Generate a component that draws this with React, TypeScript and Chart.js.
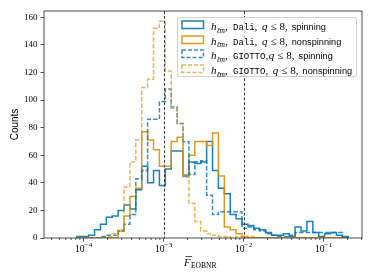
import React, { useEffect, useRef } from "react";
import { Chart, registerables } from "chart.js";
Chart.register(...registerables);

// ---------- data ----------
// log-spaced histogram bins (log10 of first edge, decade width of a bin)
const binLogStart = -4.08375;
const binLogWidth = 0.07375;

// counts per bin
const daliSpinning = [1,1,2,6,10,15,16,20,24,21,35,52,40,49,38,50,63,63,45,55,54,55,70,49,36,32,17,14,10,9,7,6,4,2,2,3,1,8,5,12,4,1,3,4,2,1];
const daliNonspinning = [0,0,0,0,0,0,0,5,16,30,36,77,71,64,52,52,70,73,46,60,70,70,67,76,45,8,6,3,1,0,0,0,0,0,0,0,0,0,0,0,0,0,0,0,0,0];
const giottoSpinning = [0,0,0,0,1,2,2,5,10,17,43,49,86,86,99,108,95,83,70,46,55,56,31,17,19,19,19,19,7,8,6,5,3,2,1,1,2,4,4,4,4,4,4,4,4,0];
const giottoNonspinning = [0,0,0,0,0,1,3,6,37,55,71,109,115,152,157,121,94,83,44,25,12,5,3,2,1,1,0,1,0,1,0,0,0,0,0,0,0,0,0,0,0,0,0,0,0,0];

const yTickValues = [0, 20, 40, 60, 80, 100, 120, 140, 160];
const xTickExponents = [-4, -3, -2, -1];
const referenceLines = [1e-3, 1e-2];
const xLogMin = -4.494;
const xLogMax = -0.519;
const yMax = 164.5;

// ---------- style ----------
const W = 374;
const H = 280;
const AREA = { left: 44, right: 362, top: 11, bottom: 238 };
const BLUE = "rgba(1,115,178,0.9)";
const ORANGE = "rgba(222,143,5,0.9)";
const BLUE_D = "rgba(1,115,178,0.8)";
const ORANGE_D = "rgba(230,150,20,0.72)";
const SERIF = "'Liberation Serif', 'DejaVu Serif', serif";
const SANS = "'Liberation Sans', 'DejaVu Sans', sans-serif";
const MONO = "'Liberation Mono', 'DejaVu Sans Mono', monospace";
const DASH = [4.5, 2];

function stepPoints(counts: number[]) {
  const edge = (i: number) => Math.pow(10, binLogStart + binLogWidth * i);
  const pts: { x: number; y: number }[] = [{ x: edge(0), y: 0 }];
  counts.forEach((c, i) => pts.push({ x: edge(i), y: c }));
  pts.push({ x: edge(counts.length), y: 0 });
  return pts;
}

const legendItems = [
  { color: BLUE, dashed: false, code: "Dali", gap: 4.6, kind: "spinning" },
  { color: ORANGE, dashed: false, code: "Dali", gap: 4.6, kind: "nonspinning" },
  { color: BLUE_D, dashed: true, code: "GIOTTO", gap: 0.6, kind: "spinning" },
  { color: ORANGE_D, dashed: true, code: "GIOTTO", gap: 4.6, kind: "nonspinning" },
];

const decorPlugin = {
  id: "decor",
  afterDatasetsDraw(chart: any) {
    const { ctx, chartArea: a, scales } = chart;
    const x = scales.x;
    ctx.save();
    // reference lines
    ctx.strokeStyle = "#3c3c3c";
    ctx.lineWidth = 1;
    ctx.setLineDash([3, 1.8]);
    referenceLines.forEach((v) => {
      const px = Math.round(x.getPixelForValue(v)) + 0.5;
      ctx.beginPath();
      ctx.moveTo(px, a.top);
      ctx.lineTo(px, a.bottom);
      ctx.stroke();
    });
    ctx.setLineDash([]);
    // frame
    ctx.strokeStyle = "#222";
    ctx.lineWidth = 0.8;
    ctx.strokeRect(a.left, a.top, a.right - a.left, a.bottom - a.top);
    // x ticks
    for (let d = -6; d <= 0; d++) {
      for (let m = 1; m <= 9; m++) {
        const v = m * Math.pow(10, d);
        if (v < x.min || v > x.max) continue;
        const px = x.getPixelForValue(v);
        const len = m === 1 ? 3.5 : 2;
        ctx.beginPath();
        ctx.moveTo(px, a.bottom);
        ctx.lineTo(px, a.bottom + len);
        ctx.stroke();
      }
    }
    // x tick labels
    ctx.fillStyle = "#000";
    ctx.textBaseline = "alphabetic";
    xTickExponents.forEach((e) => {
      const px = x.getPixelForValue(Math.pow(10, e));
      ctx.font = `9.5px ${SERIF}`;
      const base = "10";
      const bw = ctx.measureText(base).width;
      ctx.font = `7px ${SERIF}`;
      const sup = "\u2212" + Math.abs(e);
      const sw = ctx.measureText(sup).width;
      const left = px - (bw + sw) / 2;
      ctx.font = `9.5px ${SERIF}`;
      ctx.fillText(base, left, 251.5);
      ctx.font = `7px ${SERIF}`;
      ctx.fillText(sup, left + bw + 0.3, 247);
    });
    // x title
    const cx = (a.left + a.right) / 2;
    ctx.font = `italic 10.5px ${SERIF}`;
    const fW = ctx.measureText("F").width;
    ctx.font = `7.5px ${SERIF}`;
    const subW = ctx.measureText("EOBNR").width;
    const tl = cx - (fW + subW) / 2 - 3;
    ctx.font = `italic 10.5px ${SERIF}`;
    ctx.fillText("F", tl, 266);
    ctx.lineWidth = 0.8;
    ctx.beginPath();
    ctx.moveTo(tl + 1.5, 256.5);
    ctx.lineTo(tl + fW + 1.5, 256.5);
    ctx.stroke();
    ctx.font = `7.5px ${SERIF}`;
    ctx.fillText("EOBNR", tl + fW + 0.5, 268);
    // y title
    ctx.translate(15, (a.top + a.bottom) / 2);
    ctx.rotate(-Math.PI / 2);
    ctx.font = `10px ${SANS}`;
    ctx.textAlign = "center";
    ctx.textBaseline = "middle";
    ctx.fillText("Counts", 0, 0);
    ctx.restore();
  },
};

function Legend() {
  const rowCenters = [8, 22.7, 37.3, 52];
  const math: React.CSSProperties = { fontFamily: SERIF, fontSize: 11 };
  return (
    <div
      style={{
        position: "absolute",
        left: 177,
        top: 17,
        width: 180,
        height: 60,
        boxSizing: "border-box",
        border: "1px solid rgba(204,204,204,0.9)",
        borderRadius: 3,
        background: "rgba(255,255,255,0.8)",
      }}
    >
      {legendItems.map((it, i) => (
        <React.Fragment key={i}>
          <svg
            width={24}
            height={10}
            style={{ position: "absolute", left: 2.5, top: rowCenters[i] - 5 - 1 }}
          >
            <rect
              x={1}
              y={1}
              width={21.5}
              height={7.5}
              fill="none"
              stroke={it.color}
              strokeWidth={1.5}
              strokeDasharray={it.dashed ? "4 2" : undefined}
            />
          </svg>
          <div
            style={{
              position: "absolute",
              left: 33,
              top: rowCenters[i] - 1 - 7,
              height: 14,
              lineHeight: "14px",
              whiteSpace: "nowrap",
              color: "#000",
            }}
          >
            <span style={{ display: "inline-block", width: 22 }}>
              <i style={math}>h</i>
              <span style={{ fontFamily: SERIF, fontSize: 7.5, fontStyle: "italic", position: "relative", top: 2.5 }}>ℓm</span>
              <span style={math}>,</span>
            </span>
            <span style={{ fontFamily: MONO, fontSize: 9 }}>{it.code}</span>
            <span style={{ ...math, marginRight: it.gap }}>,</span>
            <i style={{ ...math, marginRight: 3 }}>q</i>
            <span style={{ ...math, marginRight: 3 }}>≤</span>
            <span style={math}>8</span>
            <span style={{ ...math, marginRight: 4 }}>,</span>
            <span style={{ fontFamily: SANS, fontSize: 9.2 }}>{it.kind}</span>
          </div>
        </React.Fragment>
      ))}
    </div>
  );
}

export default function App() {
  const ref = useRef<HTMLCanvasElement>(null);
  useEffect(() => {
    const canvas = ref.current!;
    const chart = new Chart(canvas, {
      type: "line",
      data: {
        datasets: [
          { data: stepPoints(daliSpinning), borderColor: BLUE, borderWidth: 1.5, stepped: true, pointRadius: 0, fill: false, order: 3 },
          { data: stepPoints(daliNonspinning), borderColor: ORANGE, borderWidth: 1.5, stepped: true, pointRadius: 0, fill: false, order: 2 },
          { data: stepPoints(giottoSpinning), borderColor: BLUE_D, borderWidth: 1.5, borderDash: DASH, stepped: true, pointRadius: 0, fill: false, order: 1 },
          { data: stepPoints(giottoNonspinning), borderColor: ORANGE_D, borderWidth: 1.5, borderDash: DASH, stepped: true, pointRadius: 0, fill: false, order: 0 },
        ],
      },
      options: {
        responsive: false,
        animation: false,
        events: [],
        layout: { padding: { left: 0, right: W - AREA.right, top: AREA.top, bottom: 0 } },
        plugins: { legend: { display: false }, tooltip: { enabled: false } },
        scales: {
          x: {
            type: "logarithmic",
            min: Math.pow(10, xLogMin),
            max: Math.pow(10, xLogMax),
            ticks: { display: false },
            grid: { display: false },
            border: { display: false },
            afterFit: (s: any) => {
              s.height = H - AREA.bottom;
            },
          },
          y: {
            type: "linear",
            min: 0,
            max: yMax,
            afterBuildTicks: (s: any) => {
              s.ticks = yTickValues.map((v) => ({ value: v }));
            },
            ticks: { color: "#000", padding: 3, font: { family: SERIF, size: 9 } },
            grid: { drawOnChartArea: false, drawTicks: true, tickLength: 3.5, tickColor: "#222", tickWidth: 0.8 },
            border: { display: false },
            afterFit: (s: any) => {
              s.width = AREA.left;
            },
          },
        },
      },
      plugins: [decorPlugin],
    });
    return () => chart.destroy();
  }, []);
  return (
    <div style={{ position: "fixed", left: 0, top: 0, width: W, height: H, background: "#fff" }}>
      <canvas ref={ref} width={W} height={H} style={{ display: "block", width: W, height: H }} />
      <Legend />
    </div>
  );
}
